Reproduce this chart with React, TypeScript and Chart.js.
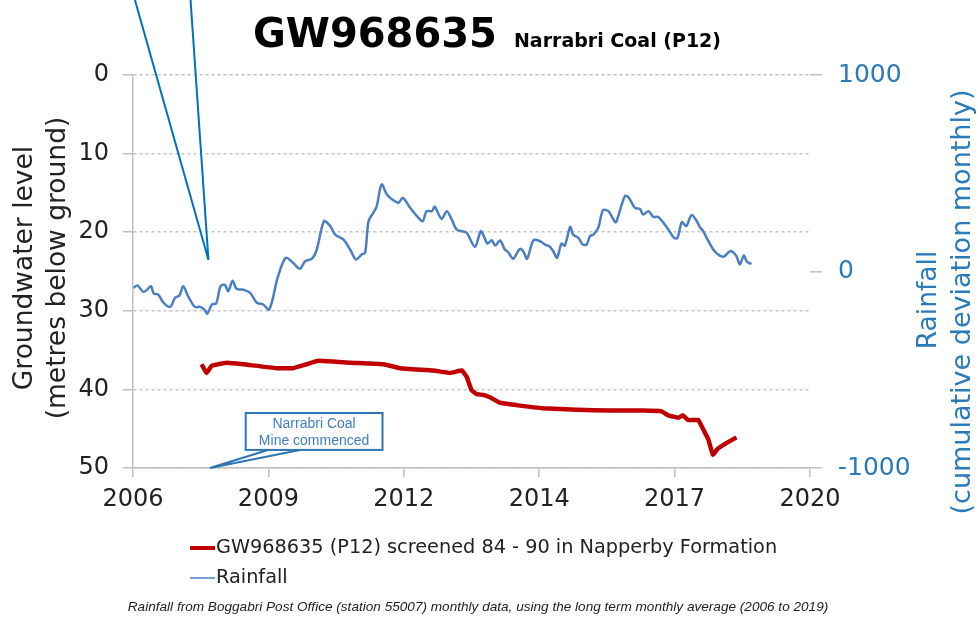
import React, { useEffect, useRef } from 'react';
import { Chart, registerables } from 'chart.js';

Chart.register(...registerables);

// ---- Data ----
const xTickPositions = [2006, 2008.8, 2011.6, 2014.4, 2017.2, 2020];
const xTickLabels = ['2006', '2009', '2012', '2014', '2017', '2020'];

const gwYears = [
  2007.42, 2007.52, 2007.63, 2007.94, 2008.28, 2008.97, 2009.31, 2009.59, 2009.83, 2010.49,
  2011.18, 2011.52, 2012.21, 2012.56, 2012.8, 2012.9, 2013.0, 2013.11, 2013.24, 2013.38,
  2013.59, 2013.93, 2014.48, 2015.18, 2015.86, 2016.55, 2016.93, 2017.07, 2017.28, 2017.37,
  2017.48, 2017.69, 2017.76, 2017.9, 2017.99, 2018.1, 2018.28, 2018.48,
];
const gwLevels = [
  36.8, 37.9, 37.0, 36.6, 36.8, 37.3, 37.3, 36.8, 36.35, 36.6,
  36.8, 37.3, 37.6, 37.9, 37.6, 38.4, 40.1, 40.6, 40.7, 41.0,
  41.7, 42.0, 42.4, 42.6, 42.7, 42.7, 42.8, 43.3, 43.6, 43.3,
  43.9, 43.9, 44.7, 46.4, 48.3, 47.5, 46.8, 46.1,
];

const rainYears = [
  2006.01, 2006.09, 2006.21, 2006.28, 2006.37, 2006.43, 2006.52, 2006.63, 2006.77, 2006.87,
  2006.96, 2007.04, 2007.14, 2007.28, 2007.39, 2007.47, 2007.54, 2007.63, 2007.72, 2007.81,
  2007.9, 2007.97, 2008.06, 2008.14, 2008.28, 2008.42, 2008.56, 2008.69, 2008.82, 2009.0,
  2009.16, 2009.31, 2009.45, 2009.56, 2009.7, 2009.8, 2009.95, 2010.07, 2010.18, 2010.35,
  2010.49, 2010.61, 2010.73, 2010.8, 2010.87, 2010.97, 2011.04, 2011.14, 2011.25, 2011.38,
  2011.49, 2011.58, 2011.73, 2011.87, 2011.99, 2012.07, 2012.18, 2012.24, 2012.38, 2012.49,
  2012.59, 2012.69, 2012.8, 2012.9, 2013.07, 2013.19, 2013.24, 2013.33, 2013.42, 2013.49,
  2013.59, 2013.69, 2013.76, 2013.86, 2014.0, 2014.07, 2014.15, 2014.28, 2014.42, 2014.52,
  2014.62, 2014.69, 2014.77, 2014.86, 2014.93, 2015.04, 2015.1, 2015.21, 2015.3, 2015.38,
  2015.45, 2015.52, 2015.62, 2015.72, 2015.83, 2015.97, 2016.0, 2016.17, 2016.24, 2016.38,
  2016.48, 2016.55, 2016.66, 2016.76, 2016.86, 2016.97, 2017.07, 2017.19, 2017.26, 2017.35,
  2017.44, 2017.55, 2017.66, 2017.71, 2017.79, 2017.9, 2018.03, 2018.21, 2018.34, 2018.41,
  2018.48, 2018.55, 2018.63, 2018.69, 2018.76, 2018.79,
];
const rainDeviation = [
  -83, -71, -103, -95, -75, -112, -117, -159, -180, -134,
  -122, -75, -126, -180, -180, -193, -214, -168, -163, -75,
  -68, -100, -47, -88, -92, -108, -159, -168, -193, -24,
  70, 44, 14, 52, 65, 112, 256, 234, 188, 163,
  112, 61, 87, 95, 256, 299, 332, 443, 392, 363,
  350, 375, 324, 282, 256, 307, 307, 329, 268, 307,
  265, 214, 205, 197, 126, 205, 188, 142, 159, 132,
  158, 112, 98, 65, 115, 103, 65, 159, 154, 137,
  126, 103, 70, 142, 132, 227, 188, 171, 137, 137,
  180, 188, 222, 312, 307, 251, 256, 383, 380, 324,
  319, 290, 307, 278, 278, 248, 214, 171, 171, 251,
  231, 287, 256, 231, 205, 154, 103, 75, 103, 98,
  78, 36, 81, 52, 41, 44,
];

// annotation anchors (data coordinates: decimal year, groundwater level)
const pointerTip = { x: 2007.56, y: 23.5 };
const pointerTopXs = [2006.04, 2007.19];
const mineTip = { x: 2007.59, y: 50 };
const mineBox = { x1: 2008.33, x2: 2011.16, y1: 43.0, y2: 47.7 };
const mineBase = [2008.79, 2009.45];

const GW_LABEL = 'GW968635 (P12) screened 84 - 90 in Napperby Formation';
const RAIN_LABEL = 'Rainfall';
const BLUE_AXIS = '#2b7bba';
const RED = '#c00000';
const RAIN_BLUE = '#4a7fc1';

const decorPlugin = {
  id: 'decor',
  afterDraw(chart: any) {
    const ctx = chart.ctx as CanvasRenderingContext2D;
    const xs = chart.scales.x;
    const ys = chart.scales.y;
    ctx.save();

    // Title
    ctx.fillStyle = '#000';
    ctx.textBaseline = 'alphabetic';
    ctx.textAlign = 'left';
    ctx.font = 'bold 40px "DejaVu Sans"';
    ctx.fillText('GW968635', 253, 47);
    const w = ctx.measureText('GW968635').width;
    ctx.font = 'bold 19px "DejaVu Sans"';
    ctx.fillText('Narrabri Coal (P12)', 253 + w + 17, 47);

    // Axis titles
    const rot = (text: string, x: number, y: number, font: string, color: string) => {
      ctx.save();
      ctx.translate(x, y);
      ctx.rotate(-Math.PI / 2);
      ctx.font = font;
      ctx.fillStyle = color;
      ctx.textAlign = 'center';
      ctx.textBaseline = 'middle';
      ctx.fillText(text, 0, 0);
      ctx.restore();
    };
    rot('Groundwater level', 25, 268, '26.5px "DejaVu Sans"', '#222');
    rot('(metres below ground)', 58, 268, '26.5px "DejaVu Sans"', '#222');
    rot('Rainfall', 929, 300, '26.5px "DejaVu Sans"', BLUE_AXIS);
    rot('(cumulative deviation monthly)', 963, 302, '27px "DejaVu Sans"', BLUE_AXIS);

    // Legend
    ctx.textAlign = 'left';
    ctx.textBaseline = 'middle';
    ctx.font = '19.3px "DejaVu Sans"';
    ctx.fillStyle = '#222';
    ctx.strokeStyle = RED;
    ctx.lineWidth = 4;
    ctx.beginPath();
    ctx.moveTo(190, 548);
    ctx.lineTo(215, 548);
    ctx.stroke();
    ctx.fillText(GW_LABEL, 216, 548);
    ctx.strokeStyle = RAIN_BLUE;
    ctx.lineWidth = 1.5;
    ctx.beginPath();
    ctx.moveTo(190, 578);
    ctx.lineTo(215, 578);
    ctx.stroke();
    ctx.fillText(RAIN_LABEL, 216, 578);

    // Footnote
    ctx.font = 'italic 13.6px "Liberation Sans"';
    ctx.textAlign = 'center';
    ctx.fillStyle = '#222';
    ctx.fillText(
      'Rainfall from Boggabri Post Office (station 55007) monthly data, using the long term monthly average (2006 to 2019)',
      478,
      607
    );

    // Pointer lines from top
    ctx.strokeStyle = '#0070c0';
    ctx.lineWidth = 2;
    const tx = xs.getPixelForValue(pointerTip.x);
    const ty = ys.getPixelForValue(pointerTip.y);
    pointerTopXs.forEach((v) => {
      ctx.beginPath();
      ctx.moveTo(xs.getPixelForValue(v), 0);
      ctx.lineTo(tx, ty);
      ctx.stroke();
    });

    // Mine callout
    const bx1 = xs.getPixelForValue(mineBox.x1);
    const bx2 = xs.getPixelForValue(mineBox.x2);
    const by1 = ys.getPixelForValue(mineBox.y1);
    const by2 = ys.getPixelForValue(mineBox.y2);
    const mtx = xs.getPixelForValue(mineTip.x);
    const mty = ys.getPixelForValue(mineTip.y);
    ctx.strokeStyle = '#2e75b6';
    ctx.fillStyle = '#fff';
    ctx.lineWidth = 2;
    ctx.beginPath();
    ctx.moveTo(xs.getPixelForValue(mineBase[0]), by2);
    ctx.lineTo(mtx, mty);
    ctx.lineTo(xs.getPixelForValue(mineBase[1]), by2);
    ctx.closePath();
    ctx.fill();
    ctx.beginPath();
    ctx.moveTo(xs.getPixelForValue(mineBase[0]), by2);
    ctx.lineTo(mtx, mty);
    ctx.lineTo(xs.getPixelForValue(mineBase[1]), by2);
    ctx.stroke();
    ctx.fillRect(bx1, by1, bx2 - bx1, by2 - by1);
    ctx.strokeRect(bx1, by1, bx2 - bx1, by2 - by1);
    ctx.fillStyle = '#3f7fbf';
    ctx.font = '14px "Liberation Sans"';
    ctx.textAlign = 'center';
    ctx.textBaseline = 'middle';
    const cx = (bx1 + bx2) / 2;
    ctx.fillText('Narrabri Coal', cx, by1 + 11);
    ctx.fillText('Mine commenced', cx, by1 + 28);

    ctx.restore();
  },
};

export default function App() {
  const ref = useRef<HTMLCanvasElement>(null);
  useEffect(() => {
    const canvas = ref.current;
    if (!canvas) return;
    Chart.defaults.font.family = '"DejaVu Sans"';
    const chart = new Chart(canvas, {
      type: 'line',
      data: {
        datasets: [
          {
            label: GW_LABEL,
            data: gwYears.map((x, i) => ({ x, y: gwLevels[i] })),
            borderColor: RED,
            backgroundColor: RED,
            borderWidth: 4.5,
            pointRadius: 0,
            yAxisID: 'y',
            tension: 0.1,
          },
          {
            label: RAIN_LABEL,
            data: rainYears.map((x, i) => ({ x, y: rainDeviation[i] })),
            borderColor: RAIN_BLUE,
            backgroundColor: RAIN_BLUE,
            borderWidth: 2.5,
            pointRadius: 0,
            yAxisID: 'y1',
            tension: 0.3,
          },
        ],
      },
      options: {
        responsive: false,
        animation: false,
        layout: { padding: { top: 75, left: 0, right: 0, bottom: 0 } },
        plugins: {
          legend: { display: false },
          tooltip: { enabled: false },
          title: { display: false },
        },
        scales: {
          x: {
            type: 'linear',
            min: 2006,
            max: 2020,
            afterBuildTicks: (s: any) => {
              s.ticks = xTickPositions.map((v) => ({ value: v }));
            },
            afterFit: (s: any) => {
              s.height = 161;
            },
            ticks: {
              callback: (_v: any, i: number) => xTickLabels[i],
              font: { size: 24 },
              color: '#222',
              padding: 8,
              maxRotation: 0,
              autoSkip: false,
            },
            grid: { drawOnChartArea: false, color: '#bfbfbf', tickLength: 9, lineWidth: 1.5 },
            border: { display: true, color: '#bfbfbf', width: 1.5 },
          },
          y: {
            position: 'left',
            reverse: true,
            min: 0,
            max: 50,
            ticks: { stepSize: 10, font: { size: 24 }, color: '#222', padding: 14 },
            afterFit: (s: any) => {
              s.width = 133;
            },
            grid: {
              color: '#c4c4c4',
              lineWidth: 1.5,
              tickLength: 10,
              tickColor: '#bfbfbf',
              tickBorderDash: [],
            },
            border: { display: true, color: '#bfbfbf', width: 1.5, dash: [3, 3] },
          },
          y1: {
            position: 'right',
            min: -1000,
            max: 1000,
            ticks: {
              stepSize: 1000,
              font: { size: 25 },
              color: BLUE_AXIS,
              padding: 16,
              callback: (v: any) => String(v),
            },
            afterFit: (s: any) => {
              s.width = 168;
            },
            grid: { drawOnChartArea: false, color: '#bfbfbf', tickLength: 12, lineWidth: 1.5 },
            border: { display: false },
          },
        },
      },
      plugins: [decorPlugin],
    } as any);
    return () => chart.destroy();
  }, []);
  return (
    <div style={{ position: 'absolute', left: 0, top: 0, width: 978, height: 629, background: '#fff' }}>
      <canvas ref={ref} width={978} height={629} style={{ display: 'block' }} />
    </div>
  );
}
